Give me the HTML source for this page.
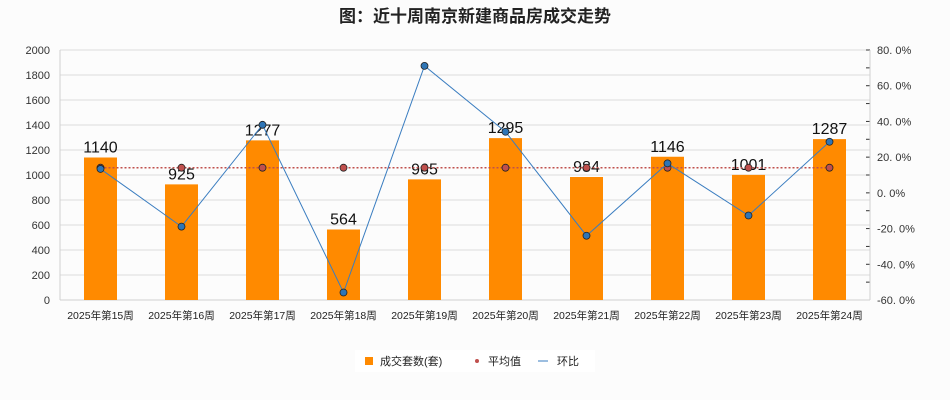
<!DOCTYPE html>
<html><head><meta charset="utf-8"><style>
body{margin:0;background:#fcfcfc;}
svg{display:block;font-family:"Liberation Sans","Noto Sans CJK SC",sans-serif;}
</style></head><body>
<svg id="c" width="950" height="400"></svg>
<script>
const categories=["2025年第15周","2025年第16周","2025年第17周","2025年第18周","2025年第19周","2025年第20周","2025年第21周","2025年第22周","2025年第23周","2025年第24周"];
const salesValues=[1140,925,1277,564,965,1295,984,1146,1001,1287];
const ratioValues=[13.4,-18.9,38.1,-55.8,71.1,34.2,-24.0,16.5,-12.7,28.6];
const leftTicks=[0,200,400,600,800,1000,1200,1400,1600,1800,2000];
const rightTicks=[-60,-40,-20,0,20,40,60,80];
const NS="http://www.w3.org/2000/svg";
const svg=document.getElementById('c');
const X0=60,X1=870,Y0=300,Y1=50;
const band=(X1-X0)/categories.length;
const xc=i=>X0+band*(i+0.5);
const yL=v=>Y0-(v-0)/(2000-0)*(Y0-Y1);
const yR=v=>Y0-(v+60)/140*(Y0-Y1);
function mk(t,a,txt){const e=document.createElementNS(NS,t);for(const k in a)e.setAttribute(k,a[k]);if(txt!==undefined)e.textContent=txt;svg.appendChild(e);return e;}
let t=mk('text',{x:475,y:22,'text-anchor':'middle','font-size':17,'font-weight':'bold',fill:'#222'},'图：近十周南京新建商品房成交走势');


leftTicks.forEach(v=>{
 let g=mk('line',{x1:X0,x2:X1,y1:yL(v),y2:yL(v),stroke:'#dcdcdc'});
 
 
 let l=mk('text',{x:50,y:yL(v)+4,'text-anchor':'end','font-size':11,fill:'#333'},String(v));
 
 
});
for(let p=-60;p<=80;p+=10){
 let tk=mk('line',{x1:X1-4,x2:X1,y1:yR(p),y2:yR(p),stroke:'#333'});
 
 
}
rightTicks.forEach(v=>{
 let l=mk('text',{x:877,y:yR(v)+4,'font-size':11,fill:'#333'},v.toFixed(1).replace('.','. ')+'%');
 
 
});
let ax=mk('line',{x1:X0,x2:X0,y1:Y1,y2:Y0,stroke:'#d0d0d0'});
let ax2=mk('line',{x1:X1,x2:X1,y1:Y1,y2:Y0,stroke:'#d0d0d0'});
let ax3=mk('line',{x1:X0,x2:X1,y1:Y0,y2:Y0,stroke:'#d0d0d0'});
const avg=salesValues.reduce((a,b)=>a+b,0)/salesValues.length;
categories.forEach((c,i)=>{
 let b=mk('rect',{x:xc(i)-16.5,y:yL(salesValues[i]),width:33,height:Y0-yL(salesValues[i]),fill:'#ff8a00'});
 
 
 let l=mk('text',{x:xc(i),y:yL(salesValues[i])-5,'text-anchor':'middle','font-size':16,fill:'#111'},String(salesValues[i]));
 
 
 let xl=mk('text',{x:xc(i),y:319,'text-anchor':'middle','font-size':10.5,fill:'#222'},c);
 
 
});
let al=mk('line',{x1:xc(0),x2:xc(9),y1:yL(avg),y2:yL(avg),stroke:'#c0504d','stroke-dasharray':'2,2','stroke-width':1.5});


categories.forEach((c,i)=>{
 let d=mk('circle',{cx:xc(i),cy:yL(avg),r:3.5,fill:'#c0504d',stroke:'#222','stroke-width':0.8});
 
 
});
let pl=mk('polyline',{points:ratioValues.map((v,i)=>xc(i)+','+yR(v)).join(' '),fill:'none',stroke:'#3a7dc0','stroke-width':1});


ratioValues.forEach((v,i)=>{
 let d=mk('circle',{cx:xc(i),cy:yR(v),r:3.5,fill:'#2e75b6',stroke:'#222','stroke-width':0.8});
 
 
});
let lg=mk('rect',{x:355,y:350,width:240,height:22,fill:'#fff'});
let s1=mk('rect',{x:365,y:357,width:8,height:8,fill:'#ff8a00'});
let l1=mk('text',{x:380,y:365,'font-size':11,fill:'#222'},'成交套数(套)');
let s2=mk('circle',{cx:477,cy:361,r:2,fill:'#c0504d'});
let l2=mk('text',{x:488,y:365,'font-size':11,fill:'#222'},'平均值');
let s3=mk('line',{x1:538,x2:548,y1:361,y2:361,stroke:'#3a7dc0'});
let l3=mk('text',{x:557,y:365,'font-size':11,fill:'#222'},'环比');
</script>
</body></html>
